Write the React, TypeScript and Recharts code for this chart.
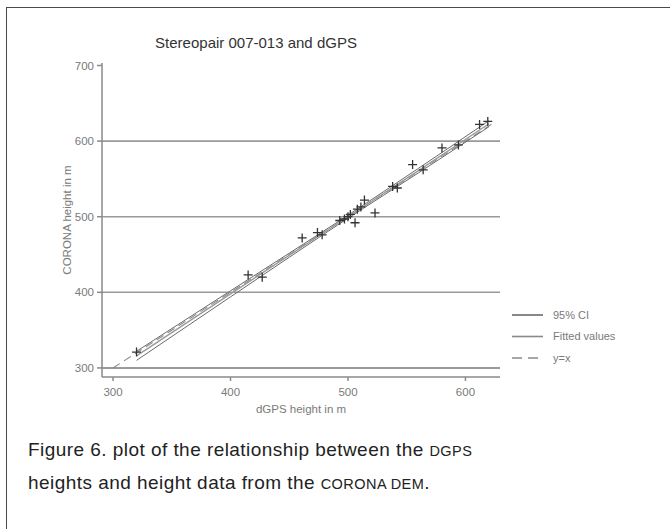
import React from "react";
import {
  ComposedChart,
  Line,
  Scatter,
  XAxis,
  YAxis,
  ReferenceLine,
} from "recharts";

// Observed points: dGPS height (x) vs CORONA DEM height (y), metres
const dgpsHeights = [320, 415, 427, 461, 474, 478, 493, 497, 500, 502, 506, 508, 511, 514, 523, 538, 542, 555, 564, 580, 594, 612, 619];
const coronaHeights = [321, 423, 420, 472, 479, 476, 495, 497, 500, 503, 492, 510, 513, 522, 505, 540, 538, 569, 562, 591, 595, 622, 626];

// Regression fit and 95% confidence band
const fitX = [320, 400, 500, 560, 620];
const fittedValues = [316, 398, 500, 561, 623];
const ciLower = [310, 394, 498, 558, 619];
const ciUpper = [322, 402, 502, 564, 627];

// y = x reference line
const identityX = [300, 625];
const identityY = [300, 625];

const xTicks = [300, 400, 500, 600];
const yTicks = [300, 400, 500, 600, 700];
const gridValues = [300, 400, 500, 600];
const legendLabels = ["95% CI", "Fitted values", "y=x"];

const pointsData = dgpsHeights.map((x, i) => ({ x, y: coronaHeights[i] }));
const fittedData = fitX.map((x, i) => ({ x, y: fittedValues[i] }));
const lowerData = fitX.map((x, i) => ({ x, y: ciLower[i] }));
const upperData = fitX.map((x, i) => ({ x, y: ciUpper[i] }));
const identityData = identityX.map((x, i) => ({ x, y: identityY[i] }));

const FONT = "'Liberation Sans', Arial, sans-serif";

const Plus = (props: any) => {
  const { cx, cy } = props;
  const s = 4.5;
  return (
    <path
      d={`M${cx - s},${cy}L${cx + s},${cy}M${cx},${cy - s}L${cx},${cy + s}`}
      stroke="#333"
      strokeWidth={1.3}
      fill="none"
    />
  );
};

const legendStyles = [
  { color: "#6a6a6a", dash: undefined as string | undefined },
  { color: "#8a8a8a", dash: undefined as string | undefined },
  { color: "#8a8a8a", dash: "10 6" },
];

const LegendBox = () => (
  <svg
    width={150}
    height={70}
    style={{ position: "absolute", left: 512, top: 308, overflow: "visible" }}
  >
    {legendLabels.map((label, i) => (
      <g key={label}>
        <line
          x1={0}
          x2={31}
          y1={7 + i * 21.5}
          y2={7 + i * 21.5}
          stroke={legendStyles[i].color}
          strokeWidth={1.6}
          strokeDasharray={legendStyles[i].dash}
        />
        <text
          x={41}
          y={7 + i * 21.5}
          dy="0.35em"
          fontSize={11}
          fill="#7a7a7a"
          fontFamily={FONT}
        >
          {label}
        </text>
      </g>
    ))}
  </svg>
);

const YLabel = () => (
  <text
    x={67}
    y={220}
    transform="rotate(-90 67 220)"
    textAnchor="middle"
    dy="0.35em"
    fontSize={11.5}
    fill="#7a7a7a"
    fontFamily={FONT}
  >
    CORONA height in m
  </text>
);

export default function App() {
  return (
    <div
      style={{
        position: "absolute",
        left: 0,
        top: 0,
        width: 670,
        height: 529,
        background: "#fff",
        overflow: "hidden",
      }}
    >
      <div
        style={{
          position: "absolute",
          left: 6,
          top: 7,
          width: 700,
          height: 560,
          border: "1.5px solid #4a4a4a",
          boxSizing: "border-box",
        }}
      />
      <div
        style={{
          position: "absolute",
          left: 100,
          width: 312,
          top: 33,
          textAlign: "center",
          fontFamily: FONT,
          fontSize: 15,
          color: "#333",
          lineHeight: "20px",
        }}
      >
        Stereopair 007-013 and dGPS
      </div>
      <div style={{ position: "absolute", left: 0, top: 0 }}>
        <ComposedChart
          width={670}
          height={440}
          margin={{ top: 63, right: 170, bottom: 23, left: 42 }}
        >
          <XAxis
            type="number"
            dataKey="x"
            domain={[290.6, 629.4]}
            ticks={xTicks}
            allowDataOverflow
            height={40}
            stroke="#8a8a8a"
            strokeWidth={1.5}
            tickSize={4}
            tickMargin={7}
            tick={{ fontSize: 11.5, fill: "#7a7a7a", fontFamily: FONT }}
            label={{
              value: "dGPS height in m",
              position: "insideBottom",
              offset: 4,
              fontSize: 11.5,
              fill: "#7a7a7a",
              fontFamily: FONT,
            }}
          />
          <YAxis
            type="number"
            dataKey="y"
            domain={[288, 703.3]}
            ticks={yTicks}
            allowDataOverflow
            width={60}
            stroke="#8a8a8a"
            strokeWidth={1.5}
            tickSize={5}
            tickMargin={3}
            tick={{ fontSize: 11.5, fill: "#7a7a7a", fontFamily: FONT }}
            label={<YLabel />}
          />
          {gridValues.map((v) => (
            <ReferenceLine
              key={v}
              y={v}
              stroke={v === 300 ? "#7a7a7a" : "#9a9a9a"}
              strokeWidth={1.6}
            />
          ))}
          <Line
            data={identityData}
            dataKey="y"
            type="linear"
            stroke="#8a8a8a"
            strokeWidth={1.1}
            strokeDasharray="8 5"
            dot={false}
            isAnimationActive={false}
          />
          <Line
            data={lowerData}
            dataKey="y"
            type="monotone"
            stroke="#6a6a6a"
            strokeWidth={1}
            dot={false}
            isAnimationActive={false}
          />
          <Line
            data={upperData}
            dataKey="y"
            type="monotone"
            stroke="#6a6a6a"
            strokeWidth={1}
            dot={false}
            isAnimationActive={false}
          />
          <Line
            data={fittedData}
            dataKey="y"
            type="linear"
            stroke="#9a9a9a"
            strokeWidth={1.4}
            dot={false}
            isAnimationActive={false}
          />
          <Scatter
            data={pointsData}
            dataKey="y"
            shape={<Plus />}
            isAnimationActive={false}
          />
        </ComposedChart>
      </div>
      <LegendBox />
      <div
        style={{
          position: "absolute",
          left: 28,
          top: 434,
          width: 640,
          fontFamily: FONT,
          fontSize: 19,
          letterSpacing: 0.45,
          color: "#222",
          lineHeight: "31px",
          whiteSpace: "nowrap",
        }}
      >
        <div>
          Figure 6. plot of the relationship between the <span style={{ fontSize: 14.5 }}>DGPS</span>
        </div>
        <div>
          heights and height data from the <span style={{ fontSize: 14.5 }}>CORONA DEM</span>.
        </div>
      </div>
    </div>
  );
}
